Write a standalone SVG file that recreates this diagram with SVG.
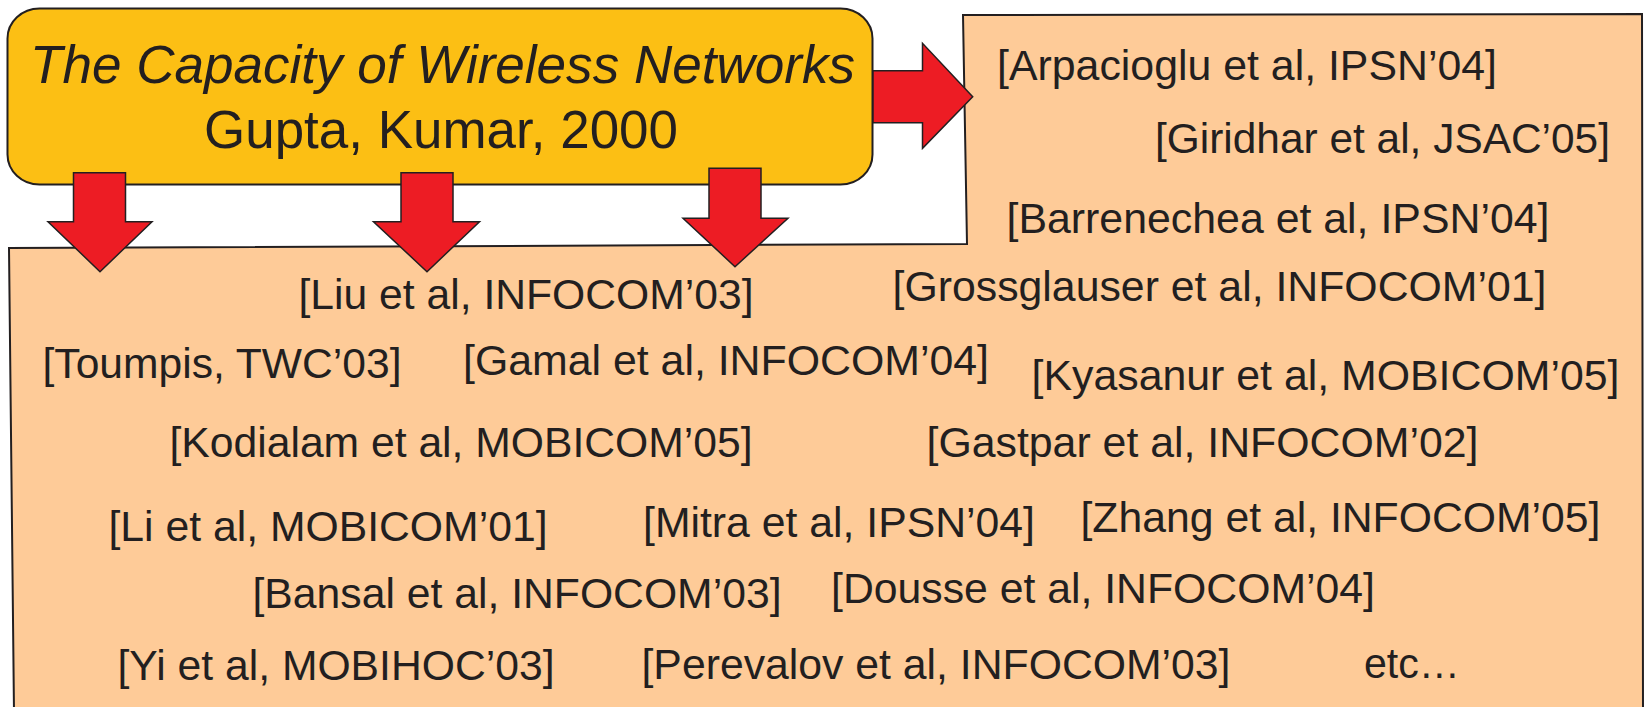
<svg xmlns="http://www.w3.org/2000/svg" width="1650" height="707" viewBox="0 0 1650 707">
<style>
.bg{fill:#fecb98;stroke:#231f20;stroke-width:2}
.box{fill:#fcbf14;stroke:#231f20;stroke-width:2}
.arr{fill:#ed1c24;stroke:#231f20;stroke-width:1.5;stroke-linejoin:miter}
.t{font-family:"Liberation Sans",Arial,sans-serif;font-size:43px;fill:#231f20}
.h{font-family:"Liberation Sans",Arial,sans-serif;font-size:53px;fill:#231f20}
</style>
<rect width="1650" height="707" fill="#ffffff"/>
<g id="citations">
<polygon class="bg" points="963,15 1642,14 1643,712 14,712 9,248 967,244"/>
<text class="t" x="997" y="80" textLength="500" lengthAdjust="spacingAndGlyphs">[Arpacioglu et al, IPSN’04]</text>
<text class="t" x="1155" y="153" textLength="455" lengthAdjust="spacingAndGlyphs">[Giridhar et al, JSAC’05]</text>
<text class="t" x="1006.5" y="233" textLength="543" lengthAdjust="spacingAndGlyphs">[Barrenechea et al, IPSN’04]</text>
<text class="t" x="892.5" y="301" textLength="654" lengthAdjust="spacingAndGlyphs">[Grossglauser et al, INFOCOM’01]</text>
<text class="t" x="298.5" y="309" textLength="455" lengthAdjust="spacingAndGlyphs">[Liu et al, INFOCOM’03]</text>
<text class="t" x="42.5" y="378" textLength="359" lengthAdjust="spacingAndGlyphs">[Toumpis, TWC’03]</text>
<text class="t" x="463" y="375" textLength="526" lengthAdjust="spacingAndGlyphs">[Gamal et al, INFOCOM’04]</text>
<text class="t" x="1031.5" y="390" textLength="588" lengthAdjust="spacingAndGlyphs">[Kyasanur et al, MOBICOM’05]</text>
<text class="t" x="169.5" y="457" textLength="583" lengthAdjust="spacingAndGlyphs">[Kodialam et al, MOBICOM’05]</text>
<text class="t" x="926.5" y="457" textLength="552" lengthAdjust="spacingAndGlyphs">[Gastpar et al, INFOCOM’02]</text>
<text class="t" x="108.5" y="541" textLength="439" lengthAdjust="spacingAndGlyphs">[Li et al, MOBICOM’01]</text>
<text class="t" x="643" y="537" textLength="392" lengthAdjust="spacingAndGlyphs">[Mitra et al, IPSN’04]</text>
<text class="t" x="1080.5" y="532" textLength="520" lengthAdjust="spacingAndGlyphs">[Zhang et al, INFOCOM’05]</text>
<text class="t" x="252.5" y="608" textLength="529" lengthAdjust="spacingAndGlyphs">[Bansal et al, INFOCOM’03]</text>
<text class="t" x="831" y="603" textLength="544" lengthAdjust="spacingAndGlyphs">[Dousse et al, INFOCOM’04]</text>
<text class="t" x="117.5" y="680" textLength="437" lengthAdjust="spacingAndGlyphs">[Yi et al, MOBIHOC’03]</text>
<text class="t" x="641.5" y="679" textLength="589" lengthAdjust="spacingAndGlyphs">[Perevalov et al, INFOCOM’03]</text>
<text class="t" x="1364" y="678" textLength="96" lengthAdjust="spacingAndGlyphs">etc…</text>
</g>
<g id="source">
<rect class="box" x="7.5" y="8.5" width="865" height="176" rx="32" ry="30"/>
<text class="h" x="30" y="83" font-style="italic" textLength="825" lengthAdjust="spacingAndGlyphs">The Capacity of Wireless Networks</text>
<text class="h" x="441" y="148" text-anchor="middle" textLength="474" lengthAdjust="spacingAndGlyphs">Gupta, Kumar, 2000</text>
</g>
<g id="connectors">
<polygon class="arr" points="73.5,172.7 125.5,172.7 125.5,221.7 152,221.7 100,271.7 48,221.7 73.5,221.7"/>
<polygon class="arr" points="401,172.7 453,172.7 453,221.7 479.5,221.7 427,271.7 373.5,221.7 401,221.7"/>
<polygon class="arr" points="709,168.3 761,168.3 761,218.3 788,218.3 735,266.7 683,218.3 709,218.3"/>
<polygon class="arr" points="873,70.7 922.5,70.7 922.5,43.3 972.7,96.7 922.5,148.3 922.5,122.7 873,122.7"/>
</g>
</svg>
